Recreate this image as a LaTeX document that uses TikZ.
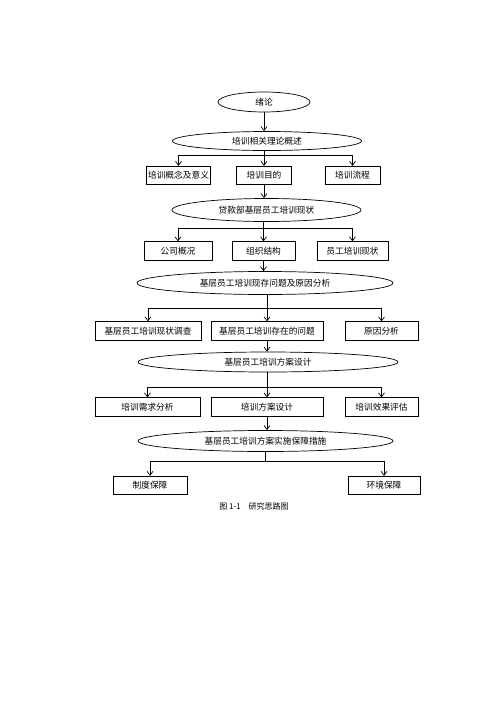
\documentclass[tikz,border=0pt]{standalone}
\usepackage{fontspec}
\setmainfont{Noto Sans CJK SC}
\usetikzlibrary{%
  arrows.meta,%
  shapes.geometric%
}

\begin{document}
\begin{tikzpicture}[x=1pt,y=-1pt,
  font=\fontsize{8.7}{10}\selectfont,
  every path/.style={line width=0.7pt},
  oval/.style={ellipse, draw, inner sep=0pt},
  plainbox/.style={rectangle, draw, inner sep=0pt, minimum height=18.5pt},
  arr/.style={-{Straight Barb[length=4pt,width=6pt]}}
]
  \useasboundingbox (0,0) rectangle (500,707);

  % ovals
  \node[oval, minimum width=92pt,  minimum height=20pt] (intro)   at (264,102)   {绪论};
  \node[oval, minimum width=189pt, minimum height=19pt] (theory)  at (267,141)   {培训相关理论概述};
  \node[oval, minimum width=189pt, minimum height=23pt] (status)  at (266.5,210) {贷款部基层员工培训现状};
  \node[oval, minimum width=256pt, minimum height=23pt] (problem) at (265,283)   {基层员工培训现存问题及原因分析};
  \node[oval, minimum width=260pt, minimum height=20pt] (design)  at (268,362)   {基层员工培训方案设计};
  \node[oval, minimum width=255pt, minimum height=21pt] (support) at (265.5,441) {基层员工培训方案实施保障措施};

  % boxes
  \node[plainbox, minimum width=64pt]  (concept) at (178.5,175.5) {培训概念及意义};
  \node[plainbox, minimum width=55pt]  (aim)     at (264,175.5)   {培训目的};
  \node[plainbox, minimum width=55pt]  (flow)    at (352.5,175.5) {培训流程};

  \node[plainbox, minimum width=68pt]  (company) at (178,251)     {公司概况};
  \node[plainbox, minimum width=63pt]  (organ)   at (263.5,251)   {组织结构};
  \node[plainbox, minimum width=71pt]  (staff)   at (352.5,251)   {员工培训现状};

  \node[plainbox, minimum width=106pt] (survey)  at (148,331)     {基层员工培训现状调查};
  \node[plainbox, minimum width=112pt] (issue)   at (267,331)     {基层员工培训存在的问题};
  \node[plainbox, minimum width=73pt]  (cause)   at (381.5,331)   {原因分析};

  \node[plainbox, minimum width=105pt] (need)    at (147.5,407)   {培训需求分析};
  \node[plainbox, minimum width=112pt] (plan)    at (267,407)     {培训方案设计};
  \node[plainbox, minimum width=73pt]  (assess)  at (381.5,407)   {培训效果评估};

  \node[plainbox, minimum width=74pt] (rule) at (150,485.5) {制度保障};
  \node[plainbox, minimum width=72pt] (env)  at (384,485.5) {环境保障};

  % split levels
  \coordinate (split1) at (264,155);
  \coordinate (split2) at (263.5,228);
  \coordinate (split3) at (267,308);
  \coordinate (split4) at (267,387);
  \coordinate (split5) at (265.5,461);

  % connectors
  \draw[arr] (intro) -- (intro.south |- theory.north);

  \draw[arr] (theory.south -| aim.north) -- (aim.north);
  \draw (concept.north |- split1) -- (flow.north |- split1);
  \draw[arr] (concept.north |- split1) -- (concept.north);
  \draw[arr] (flow.north |- split1) -- (flow.north);

  \draw[arr] (aim.south) -- (aim.south |- status.north);

  \draw[arr] (status.south -| organ.north) -- (organ.north);
  \draw (company.north |- split2) -- (staff.north |- split2);
  \draw[arr] (company.north |- split2) -- (company.north);
  \draw[arr] (staff.north |- split2) -- (staff.north);

  \draw[arr] (organ.south) -- (organ.south |- problem.north);

  \draw[arr] (problem.south -| issue.north) -- (issue.north);
  \draw (survey.north |- split3) -- (cause.north |- split3);
  \draw[arr] (survey.north |- split3) -- (survey.north);
  \draw[arr] (cause.north |- split3) -- (cause.north);

  \draw[arr] (issue.south) -- (issue.south |- design.north);

  \draw[arr] (design.south -| plan.north) -- (plan.north);
  \draw (need.north |- split4) -- (assess.north |- split4);
  \draw[arr] (need.north |- split4) -- (need.north);
  \draw[arr] (assess.north |- split4) -- (assess.north);

  \draw[arr] (plan.south) -- (plan.south |- support.north);

  \draw (support.south) -- (split5);
  \draw (rule.north |- split5) -- (env.north |- split5);
  \draw[arr] (rule.north |- split5) -- (rule.north);
  \draw[arr] (env.north |- split5) -- (env.north);

  % caption
  \node[font=\fontsize{8}{10}\selectfont] (caption) at (254,506) {图 1-1\quad 研究思路图};
\end{tikzpicture}
\end{document}
